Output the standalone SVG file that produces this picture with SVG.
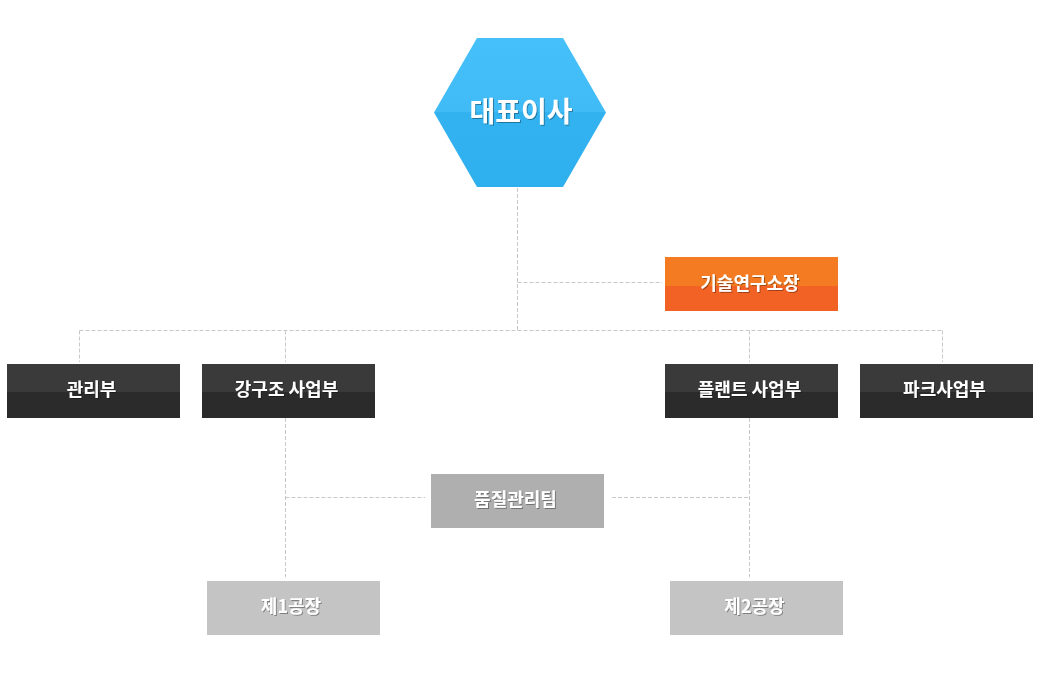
<svg xmlns="http://www.w3.org/2000/svg" width="1040" height="690" viewBox="0 0 1040 690">
<defs>
<linearGradient id="gHex" x1="0" y1="0" x2="0" y2="1">
<stop offset="0" stop-color="#46c0f9"/><stop offset="0.5" stop-color="#40bbf6"/><stop offset="0.5" stop-color="#33b2f0"/><stop offset="1" stop-color="#2fb0ee"/>
</linearGradient>
<linearGradient id="gOr" x1="0" y1="0" x2="0" y2="1">
<stop offset="0" stop-color="#f47b22"/><stop offset="0.54" stop-color="#f47b22"/><stop offset="0.54" stop-color="#f26224"/><stop offset="1" stop-color="#f26224"/>
</linearGradient>
<linearGradient id="gDk" x1="0" y1="0" x2="0" y2="1">
<stop offset="0" stop-color="#3a3a3a"/><stop offset="0.52" stop-color="#3a3a3a"/><stop offset="0.52" stop-color="#2b2b2b"/><stop offset="1" stop-color="#2b2b2b"/>
</linearGradient>
<filter id="sh" x="-10%" y="-20%" width="120%" height="150%">
<feDropShadow dx="1" dy="1" stdDeviation="0.6" flood-color="#000" flood-opacity="0.35"/>
</filter>
</defs>
<style>
.ln{stroke:#c8c8c8;stroke-width:1;stroke-dasharray:4 2;fill:none}
.t{font-family:"Noto Sans CJK KR","Noto Sans",sans-serif;font-weight:bold;fill:#fff;text-anchor:middle;font-size:18px}
.big{font-size:28px}
.dk{fill:url(#gDk)}
</style>
<g id="connectors">
<path class="ln" d="M517.5 188V330.5"/>
<path class="ln" d="M517.5 282.5H662"/>
<path class="ln" d="M79.5 330.5H942.5"/>
<path class="ln" d="M79.5 330.5V362"/>
<path class="ln" d="M285.5 330.5V362"/>
<path class="ln" d="M749.5 330.5V362"/>
<path class="ln" d="M942.5 330.5V362"/>
<path class="ln" d="M285.5 418V577"/>
<path class="ln" d="M285.5 497.5H425"/>
<path class="ln" d="M749.5 418V577"/>
<path class="ln" d="M612 497.5H749.5"/>
</g>
<g id="ceo">
<polygon points="477,38 563,38 606,112.5 563,187 477,187 434,112.5" fill="url(#gHex)"/>
<text class="t big" x="521" y="122" filter="url(#sh)">대표이사</text>
</g>
<g id="lab">
<rect x="665" y="257" width="173" height="54" fill="url(#gOr)"/>
<text class="t" x="750" y="290" filter="url(#sh)">기술연구소장</text>
</g>
<g id="admin">
<rect class="dk" x="7" y="364" width="173" height="54"/>
<text class="t" x="91.5" y="396" filter="url(#sh)">관리부</text>
</g>
<g id="steel">
<rect class="dk" x="202" y="364" width="173" height="54"/>
<text class="t" x="286.5" y="396" filter="url(#sh)">강구조 사업부</text>
</g>
<g id="plant">
<rect class="dk" x="665" y="364" width="173" height="54"/>
<text class="t" x="749.5" y="396" filter="url(#sh)">플랜트 사업부</text>
</g>
<g id="park">
<rect class="dk" x="860" y="364" width="173" height="54"/>
<text class="t" x="944.5" y="396" filter="url(#sh)">파크사업부</text>
</g>
<g id="qc">
<rect x="431" y="474" width="173" height="54" fill="#afafaf"/>
<text class="t" x="515.5" y="506" filter="url(#sh)">품질관리팀</text>
</g>
<g id="factory1">
<rect x="207" y="581" width="173" height="54" fill="#c4c4c4"/>
<text class="t" x="291" y="613" filter="url(#sh)">제1공장</text>
</g>
<g id="factory2">
<rect x="670" y="581" width="173" height="54" fill="#c4c4c4"/>
<text class="t" x="754.5" y="613" filter="url(#sh)">제2공장</text>
</g>
</svg>
